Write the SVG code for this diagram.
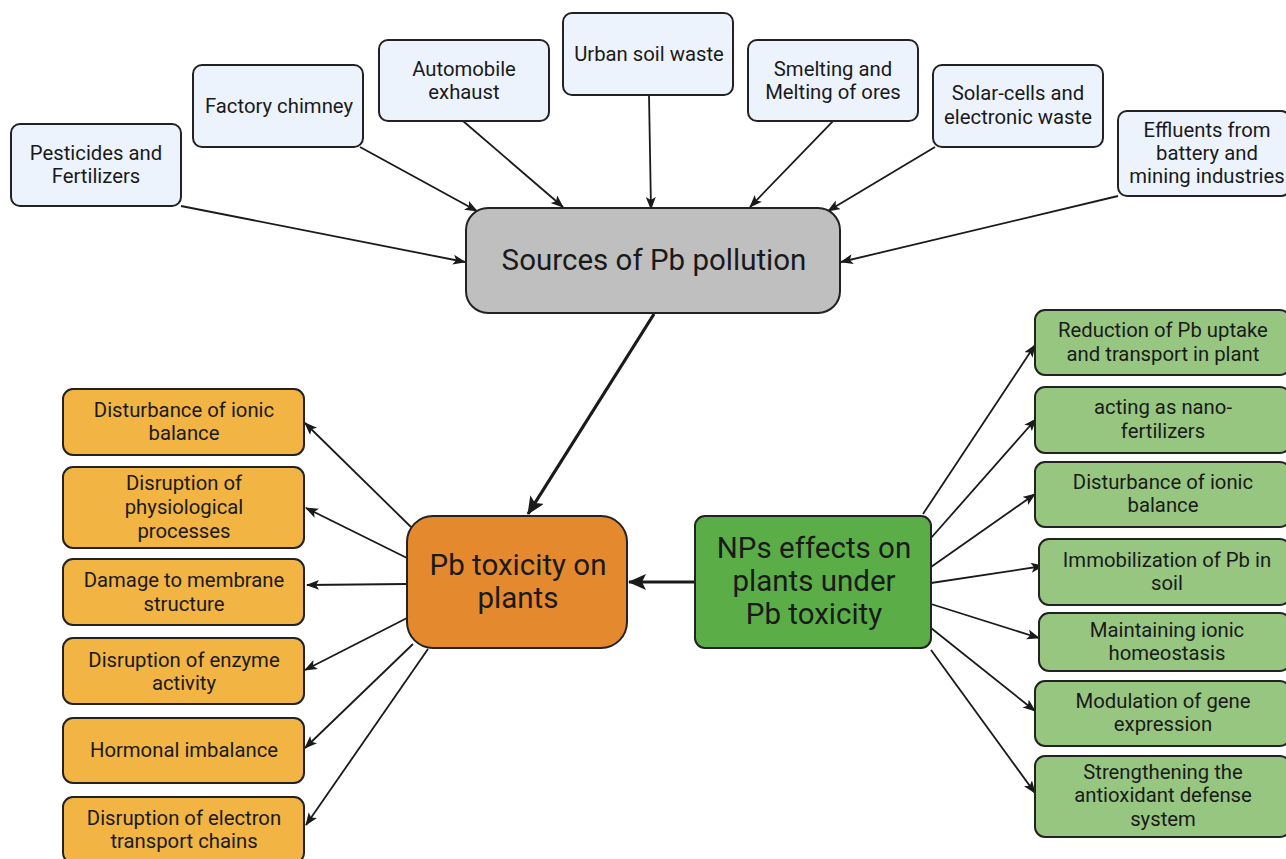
<svg xmlns="http://www.w3.org/2000/svg" width="1286" height="859" viewBox="0 0 1286 859">
<defs>
<style>
text{font-family:Roboto,"Liberation Sans",sans-serif;fill:#1a1a1a;text-anchor:middle}
.s{font-size:20.3px}
.b{font-size:29.5px}
.src rect{fill:#EDF3FC;stroke:#222;stroke-width:2}
.lo rect{fill:#F2B443;stroke:#222;stroke-width:2}
.rg rect{fill:#97C680;stroke:#222;stroke-width:2}
.c line{stroke:#1a1a1a;stroke-width:1.8;marker-end:url(#a)}
.c line.t{stroke-width:3.2;marker-end:url(#A)}
</style>
<marker id="a" markerUnits="userSpaceOnUse" markerWidth="14" markerHeight="12" refX="12" refY="5" orient="auto"><path d="M0,0 L13,5 L0,10 L3,5 Z" fill="#1a1a1a"/></marker>
<marker id="A" markerUnits="userSpaceOnUse" markerWidth="20" markerHeight="18" refX="17" refY="8" orient="auto"><path d="M0,0 L18,8 L0,16 L4,8 Z" fill="#1a1a1a"/></marker>
</defs>
<rect width="1286" height="859" fill="#fff"/>
<g id="connectors" class="c">
<line x1="181" y1="206" x2="465" y2="262"/>
<line x1="360" y1="147" x2="477" y2="211"/>
<line x1="463" y1="121" x2="563" y2="207"/>
<line x1="649" y1="95" x2="651" y2="209"/>
<line x1="833" y1="121" x2="750" y2="207"/>
<line x1="935" y1="147" x2="828" y2="211"/>
<line x1="1118" y1="196" x2="841" y2="262"/>
<line class="t" x1="654" y1="314" x2="528" y2="514"/>
<line class="t" x1="695" y1="582" x2="629" y2="582"/>
<line x1="411" y1="527" x2="305" y2="423"/>
<line x1="407" y1="558" x2="306" y2="508"/>
<line x1="407" y1="584" x2="307" y2="585"/>
<line x1="409" y1="617" x2="305" y2="670"/>
<line x1="413" y1="644" x2="305" y2="748"/>
<line x1="428" y1="649" x2="306" y2="825"/>
<line x1="923" y1="514" x2="1035" y2="345"/>
<line x1="931" y1="538" x2="1036" y2="419"/>
<line x1="931" y1="567" x2="1035" y2="494"/>
<line x1="931" y1="583" x2="1043" y2="566"/>
<line x1="931" y1="604" x2="1039" y2="638"/>
<line x1="931" y1="628" x2="1035" y2="711"/>
<line x1="931" y1="650" x2="1035" y2="793"/>
</g>
<g id="n-pesticides" class="src"><rect x="11" y="124" width="170" height="82" rx="9"/><text class="s" x="96" y="160">Pesticides and</text><text class="s" x="96" y="183">Fertilizers</text></g>
<g id="n-factory" class="src"><rect x="193" y="65" width="170" height="82" rx="9"/><text class="s" x="279" y="113">Factory chimney</text></g>
<g id="n-automobile" class="src"><rect x="379" y="40" width="170" height="81" rx="9"/><text class="s" x="464" y="76">Automobile</text><text class="s" x="464" y="99">exhaust</text></g>
<g id="n-urban" class="src"><rect x="563" y="13" width="170" height="82" rx="9"/><text class="s" x="649" y="61">Urban soil waste</text></g>
<g id="n-smelting" class="src"><rect x="748" y="40" width="170" height="81" rx="9"/><text class="s" x="833" y="76">Smelting and</text><text class="s" x="833" y="99">Melting of ores</text></g>
<g id="n-solar" class="src"><rect x="933" y="65" width="170" height="82" rx="9"/><text class="s" x="1018" y="100">Solar-cells and</text><text class="s" x="1018" y="124">electronic waste</text></g>
<g id="n-effluents" class="src"><rect x="1118" y="111" width="172" height="85" rx="9"/><text class="s" x="1207" y="137">Effluents from</text><text class="s" x="1207" y="160">battery and</text><text class="s" x="1207" y="183">mining industries</text></g>
<g id="n-sources"><rect x="466" y="208" width="374" height="105" rx="22" fill="#BFBFBF" stroke="#222" stroke-width="2"/><text class="b" x="654" y="270">Sources of Pb pollution</text></g>
<g id="n-toxicity"><rect x="407" y="516" width="220" height="132" rx="26" fill="#E5892F" stroke="#222" stroke-width="2"/><text class="b" x="518" y="575">Pb toxicity on</text><text class="b" x="518" y="608">plants</text></g>
<g id="n-nps"><rect x="695" y="516" width="236" height="132" rx="10" fill="#5BAE47" stroke="#222" stroke-width="2"/><text class="b" x="814" y="558">NPs effects on</text><text class="b" x="814" y="591">plants under</text><text class="b" x="814" y="624">Pb toxicity</text></g>
<g id="l-ionic" class="lo"><rect x="63" y="389" width="241" height="66" rx="10"/><text class="s" x="184" y="417">Disturbance of ionic</text><text class="s" x="184" y="440">balance</text></g>
<g id="l-physio" class="lo"><rect x="63" y="467" width="241" height="81" rx="10"/><text class="s" x="184" y="490">Disruption of</text><text class="s" x="184" y="514">physiological</text><text class="s" x="184" y="538">processes</text></g>
<g id="l-membrane" class="lo"><rect x="63" y="559" width="241" height="66" rx="10"/><text class="s" x="184" y="587">Damage to membrane</text><text class="s" x="184" y="611">structure</text></g>
<g id="l-enzyme" class="lo"><rect x="63" y="638" width="241" height="66" rx="10"/><text class="s" x="184" y="667">Disruption of enzyme</text><text class="s" x="184" y="690">activity</text></g>
<g id="l-hormonal" class="lo"><rect x="63" y="718" width="241" height="65" rx="10"/><text class="s" x="184" y="757">Hormonal imbalance</text></g>
<g id="l-electron" class="lo"><rect x="63" y="797" width="241" height="66" rx="10"/><text class="s" x="184" y="825">Disruption of electron</text><text class="s" x="184" y="848">transport chains</text></g>
<g id="r-reduction" class="rg"><rect x="1035" y="310" width="255" height="65" rx="10"/><text class="s" x="1163" y="337">Reduction of Pb uptake</text><text class="s" x="1163" y="361">and transport in plant</text></g>
<g id="r-nano" class="rg"><rect x="1035" y="387" width="255" height="66" rx="10"/><text class="s" x="1163" y="414">acting as nano-</text><text class="s" x="1163" y="438">fertilizers</text></g>
<g id="r-ionic" class="rg"><rect x="1035" y="462" width="255" height="65" rx="10"/><text class="s" x="1163" y="489">Disturbance of ionic</text><text class="s" x="1163" y="512">balance</text></g>
<g id="r-immob" class="rg"><rect x="1039" y="539" width="251" height="66" rx="10"/><text class="s" x="1167" y="567">Immobilization of Pb in</text><text class="s" x="1167" y="590">soil</text></g>
<g id="r-homeo" class="rg"><rect x="1039" y="613" width="251" height="58" rx="10"/><text class="s" x="1167" y="637">Maintaining ionic</text><text class="s" x="1167" y="660">homeostasis</text></g>
<g id="r-gene" class="rg"><rect x="1035" y="681" width="255" height="65" rx="10"/><text class="s" x="1163" y="708">Modulation of gene</text><text class="s" x="1163" y="731">expression</text></g>
<g id="r-antiox" class="rg"><rect x="1035" y="756" width="255" height="81" rx="10"/><text class="s" x="1163" y="779">Strengthening the</text><text class="s" x="1163" y="802">antioxidant defense</text><text class="s" x="1163" y="826">system</text></g>
</svg>
